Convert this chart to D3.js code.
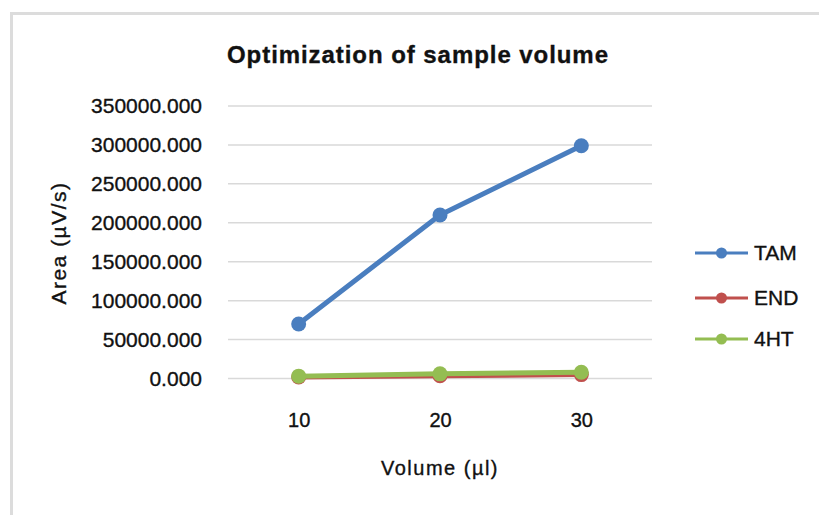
<!DOCTYPE html>
<html>
<head>
<meta charset="utf-8">
<script src="https://cdn.jsdelivr.net/npm/d3@7"></script>
<style>
  body { margin: 0; background: #fff; }
  text { font-family: "Liberation Sans", Arial, sans-serif; fill: #111; stroke: #111; stroke-width: 0.35px; }
</style>
</head>
<body>
<svg id="chart" width="819" height="515"></svg>
<script>
// data
const volumes = ['10', '20', '30'];
const tam = [70000, 210000, 299000];
const end = [2000, 3500, 5000];
const ht4 = [3000, 6000, 8000];
const seriesNames = ['TAM', 'END', '4HT'];
const seriesColors = ['#4a7ebf', '#c0504d', '#94bd52'];
const yTicks = [0, 50000, 100000, 150000, 200000, 250000, 300000, 350000];

const svg = d3.select('#chart');

// chart frame (runs off the right and bottom of the window)
svg.append('rect')
  .attr('x', 11.5).attr('y', 13.5)
  .attr('width', 900).attr('height', 600)
  .attr('fill', 'none')
  .attr('stroke', '#dcdcdc')
  .attr('stroke-width', 3);

const x = d3.scalePoint().domain(volumes).range([228, 652]).padding(0.5);
const y = d3.scaleLinear().domain([0, 350000]).range([378.5, 106]);

// gridlines
svg.append('g')
  .selectAll('line')
  .data(yTicks)
  .join('line')
  .attr('x1', 228).attr('x2', 652)
  .attr('y1', d => y(d)).attr('y2', d => y(d))
  .attr('stroke', '#d9d9d9')
  .attr('stroke-width', 1.5);

// y axis labels
const yAxis = svg.append('g')
  .attr('transform', 'translate(228,0)')
  .call(d3.axisLeft(y).tickValues(yTicks).tickFormat(d3.format('.3f')).tickSize(0).tickPadding(26));
yAxis.select('.domain').remove();
yAxis.selectAll('text')
  .attr('font-size', 21)
  .style('font-family', '"Liberation Sans", Arial, sans-serif')
  .attr('fill', '#111');

// x axis labels
const xAxis = svg.append('g')
  .attr('transform', 'translate(0,378.5)')
  .call(d3.axisBottom(x).tickSize(0).tickPadding(34));
xAxis.select('.domain').remove();
xAxis.selectAll('text')
  .attr('font-size', 20)
  .style('font-family', '"Liberation Sans", Arial, sans-serif')
  .attr('fill', '#111');

// series
const allSeries = [tam, end, ht4];
const line = d3.line().x((d, i) => x(volumes[i])).y(d => y(d));

// draw END first, 4HT on top of it, TAM on top
[1, 2, 0].forEach(s => {
  const g = svg.append('g');
  g.append('path')
    .datum(allSeries[s])
    .attr('d', line)
    .attr('fill', 'none')
    .attr('stroke', seriesColors[s])
    .attr('stroke-width', 5)
    .attr('stroke-linejoin', 'round');
  g.selectAll('circle')
    .data(allSeries[s])
    .join('circle')
    .attr('cx', (d, i) => x(volumes[i]))
    .attr('cy', d => y(d))
    .attr('r', 7.5)
    .attr('fill', seriesColors[s]);
});

// title
svg.append('text')
  .attr('x', 227).attr('y', 63)
  .attr('font-size', 24)
  .attr('font-weight', 'bold')
  .attr('textLength', 381)
  .attr('lengthAdjust', 'spacing')
  .text('Optimization of sample volume');

// axis titles
svg.append('text')
  .attr('x', 440).attr('y', 475)
  .attr('text-anchor', 'middle')
  .attr('font-size', 20)
  .attr('letter-spacing', 1.5)
  .text('Volume (µl)');

svg.append('text')
  .attr('transform', 'translate(66,243) rotate(-90)')
  .attr('text-anchor', 'middle')
  .attr('font-size', 21)
  .attr('letter-spacing', 1.5)
  .text('Area (µV/s)');

// legend
const legendY = [253, 298, 339];
const legend = svg.append('g')
  .selectAll('g')
  .data(seriesNames)
  .join('g')
  .attr('transform', (d, i) => `translate(0,${legendY[i]})`);
legend.append('line')
  .attr('x1', 695).attr('x2', 748)
  .attr('stroke', (d, i) => seriesColors[i])
  .attr('stroke-width', 3);
legend.append('circle')
  .attr('cx', 721.5).attr('r', 5.5)
  .attr('fill', (d, i) => seriesColors[i]);
legend.append('text')
  .attr('x', 754).attr('y', 7)
  .attr('font-size', 21)
  .text(d => d);
</script>
</body>
</html>
